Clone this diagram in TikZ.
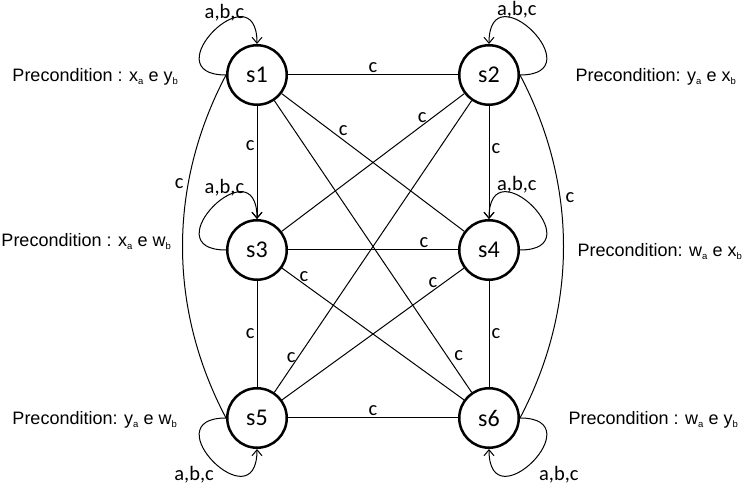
\documentclass[tikz,border=0pt]{standalone}
\usepackage{fontspec}
\setmainfont{Carlito}
\newfontfamily\arialfont{Liberation Sans}
\usetikzlibrary{arrows.meta}
\newcommand\lowidx[1]{\raisebox{-0.3ex}{\fontsize{9.5}{10}\selectfont #1}}

\begin{document}
\begin{tikzpicture}[x=1pt, y=1pt, line width=1pt,
  >={Straight Barb[length=6pt, width=10pt]},
  state/.style={circle, draw, line width=2.5pt, minimum size=59.5pt, inner sep=0pt, font=\fontsize{24}{26}\selectfont},
  lbl/.style={font=\fontsize{20.5}{22}\selectfont, inner sep=2pt},
  pre/.style={font=\arialfont\fontsize{18}{20}\selectfont, anchor=base west, inner sep=0pt}]
\useasboundingbox (0,0) rectangle (747,487);
% states
\node[state] (s1) at (257,412) {s1};
\node[state] (s2) at (489,412) {s2};
\node[state] (s3) at (257,237) {s3};
\node[state] (s4) at (489,237) {s4};
\node[state] (s5) at (257,69) {s5};
\node[state] (s6) at (489,69) {s6};
% preconditions
\node[pre] (p1) at (12,405.5) {Precondition : x\lowidx{a} e y\lowidx{b}};
\node[pre] (p2) at (575,405.5) {Precondition: y\lowidx{a} e x\lowidx{b}};
\node[pre] (p3) at (1,240.5) {Precondition : x\lowidx{a} e w\lowidx{b}};
\node[pre] (p4) at (577,230.5) {Precondition: w\lowidx{a} e x\lowidx{b}};
\node[pre] (p5) at (12,62.5) {Precondition: y\lowidx{a} e w\lowidx{b}};
\node[pre] (p6) at (568,62.5) {Precondition : w\lowidx{a} e y\lowidx{b}};
% self loops
\draw[->] (s1.west) .. controls +(-75,0) and +(0,75) .. (s1.north) node[lbl, pos=0.6, above, inner sep=1pt] {a,b,c};
\draw[->] (s2.east) .. controls +(75,0) and +(0,75) .. (s2.north) node[lbl, pos=0.64, above, inner sep=1pt] {a,b,c};
\draw[->] (s3.west) .. controls +(-75,0) and +(0,75) .. (s3.north) node[lbl, pos=0.6, above, inner sep=1pt] {a,b,c};
\draw[->] (s4.east) .. controls +(75,0) and +(0,75) .. (s4.north) node[lbl, pos=0.64, above, inner sep=1pt] {a,b,c};
\draw[->] (s5.west) .. controls +(-75,0) and +(0,-75) .. (s5.south) node[lbl, pos=0.5, below left, xshift=3pt, yshift=-2pt] {a,b,c};
\draw[->] (s6.east) .. controls +(75,0) and +(0,-75) .. (s6.south) node[lbl, pos=0.5, below right, xshift=4pt, yshift=-2pt] {a,b,c};
% straight transitions
\draw (s1) -- (s2) node[lbl, pos=0.5, above] {c};
\draw[->] (s1) -- (s3) node[lbl, pos=0.35, left] {c};
\draw[->] (s2) -- (s4) node[lbl, pos=0.38, right] {c};
\draw (s3) -- (s4) node[lbl, pos=0.8, above] {c};
\draw (s3) -- (s5) node[lbl, pos=0.5, left] {c};
\draw (s4) -- (s6) node[lbl, pos=0.5, right] {c};
\draw (s5) -- (s6) node[lbl, pos=0.5, above] {c};
\draw (s1) -- (s4) node[lbl, pos=0.32, above, xshift=3pt] {c};
\draw (s2) -- (s3) node[lbl, pos=0.23, above] {c};
\draw (s3) -- (s6) node[lbl, pos=0.12, above] {c};
\draw (s4) -- (s5) node[lbl, pos=0.17, above] {c};
\draw (s2) -- (s5) node[lbl, pos=0.88, left] {c};
\draw (s1) -- (s6) node[lbl, pos=0.9, above right] {c};
% long curves
\draw (s1.west) .. controls +(-58,-110) and +(-58,110) .. (s5.west) node[lbl, pos=0.32, left, xshift=-2pt] {c};
\draw (s2.east) .. controls +(58,-110) and +(58,110) .. (s6.east) node[lbl, pos=0.36, right, xshift=3pt] {c};
\end{tikzpicture}
\end{document}
